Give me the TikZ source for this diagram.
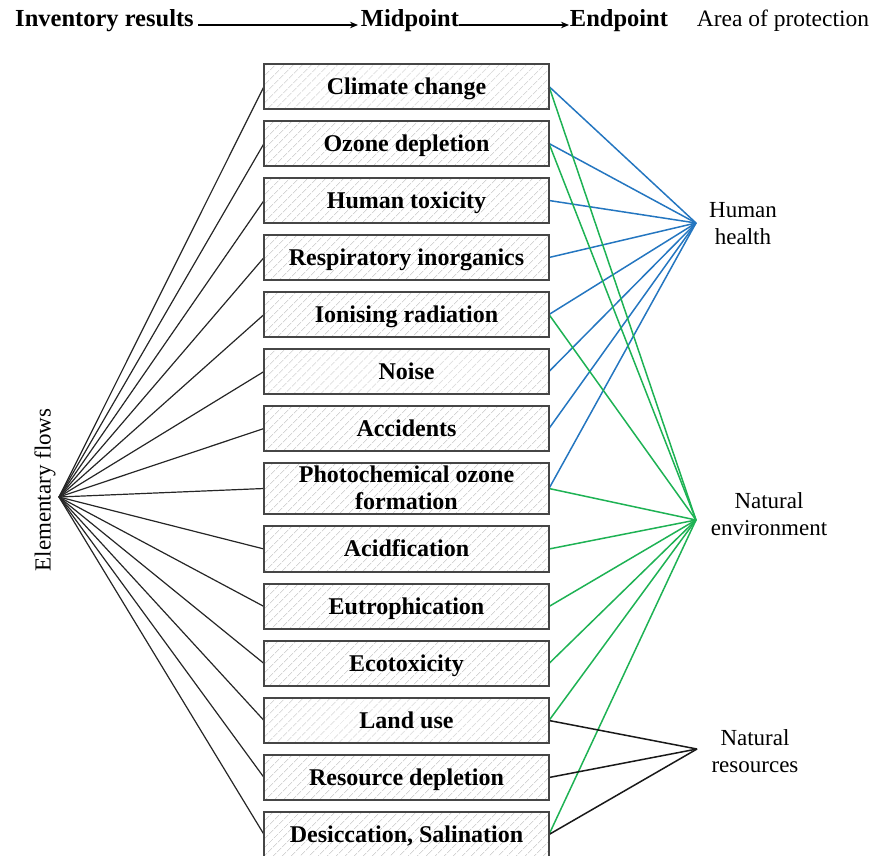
\documentclass[tikz,border=0pt]{standalone}
\usepackage{fontspec}
\setmainfont{Liberation Serif}
\usetikzlibrary{arrows.meta,patterns.meta}
\definecolor{hhblue}{RGB}{36,118,192}
\definecolor{negreen}{RGB}{30,178,84}
\definecolor{boxgray}{RGB}{70,70,70}
\definecolor{hatch}{RGB}{190,190,190}
\begin{document}
\begin{tikzpicture}[x=1pt,y=-1pt,
  category/.style={draw=boxgray,line width=1.4pt,minimum width=285pt,minimum height=45pt,
    inner sep=0pt,align=center,font=\fontsize{24}{27}\selectfont\bfseries,
    preaction={fill=white},
    pattern={Lines[angle=45,distance=6.5pt,line width=0.7pt]},pattern color=hatch},
  flowline/.style={line width=1.2pt,black!85},
  hhline/.style={line width=1.5pt,hhblue},
  neline/.style={line width=1.5pt,negreen},
  nrline/.style={line width=1.5pt,black!90},
  headbold/.style={font=\fontsize{24.5}{27}\selectfont\bfseries,inner sep=0pt,anchor=base},
  headreg/.style={font=\fontsize{23.5}{27}\selectfont,inner sep=0pt,anchor=base},
  aop/.style={font=\fontsize{23}{27}\selectfont,align=center,inner sep=0pt},
  headarrow/.style={line width=1.1pt,-{Stealth[length=8pt,width=6.5pt]}}]
\useasboundingbox (0,0) rectangle (875,856);

% column headings
\node[headbold] (inv) at (104.5,27) {Inventory results};
\node[headbold] (mid) at (410,27) {Midpoint};
\node[headbold] (endp) at (619,27) {Endpoint};
\node[headreg] (area) at (783,27) {Area of protection};
\coordinate (a1s) at (198,25);
\coordinate (a1e) at (358,25);
\coordinate (a2s) at (459,25);
\coordinate (a2e) at (569,25);
\draw[headarrow] (a1s) -- (a1e);
\draw[headarrow] (a2s) -- (a2e);

% hubs
\coordinate (ef) at (59,497);
\coordinate (hh) at (696,223);
\coordinate (ne) at (696,520);
\coordinate (nr) at (697,749);

% connector end points on the box edges
\foreach \y [count=\i] in {86.5,143.5,200.5,257.5,314.5,371.5,428.5,488.5,549,606.5,663.5,720.5,777.5,834.5}
  \coordinate (w\i) at (264,\y);
\foreach \y [count=\i] in {86.5,143.5,200.5,257.5,314.5,371.5,428.5,488.5,549,606.5,663.5,720.5,777.5,834.5}
  \coordinate (e\i) at (549,\y);
\foreach \i in {1,...,14} \draw[flowline] (ef) -- (w\i);
\foreach \i in {1,2,3,4,5,6,7,8} \draw[hhline] (e\i) -- (hh);
\foreach \i in {1,2,5,8,9,10,11,12,14} \draw[neline] (e\i) -- (ne);
\foreach \i in {12,13,14} \draw[nrline] (e\i) -- (nr);

% impact categories (labels sit slightly below the geometric centre)
\foreach \name/\y/\h/\txt in {
    b1/86.5/45/Climate change,
    b2/143.5/45/Ozone depletion,
    b3/200.5/45/Human toxicity,
    b4/257.5/45/Respiratory inorganics,
    b5/314.5/45/Ionising radiation,
    b6/371.5/45/Noise,
    b7/428.5/45/Accidents,
    b8/488.5/51/{Photochemical ozone\\formation},
    b9/549/46/Acidfication,
    b10/606.5/45/Eutrophication,
    b11/663.5/45/Ecotoxicity,
    b12/720.5/45/Land use,
    b13/777.5/45/Resource depletion,
    b14/834.5/45/{Desiccation, Salination}}
  \node[category,minimum height=\h pt,text depth=1pt] (\name) at (406.5,\y) {\txt};

% labels
\node[aop,rotate=90] (eflab) at (45,490) {Elementary flows};
\node[aop] (hhlab) at (743,224) {Human\\health};
\node[aop] (nelab) at (769,514) {Natural\\environment};
\node[aop] (nrlab) at (755,751) {Natural\\resources};
\end{tikzpicture}
\end{document}
